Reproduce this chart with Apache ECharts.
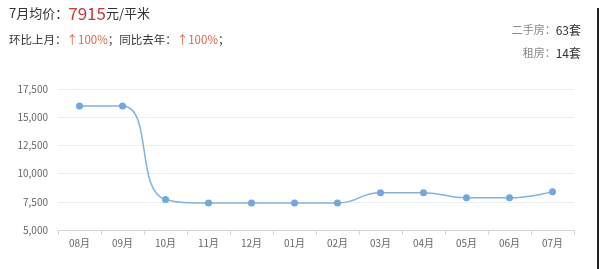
<!DOCTYPE html>
<html><head><meta charset="utf-8">
<script src="https://cdn.jsdelivr.net/npm/echarts@6/dist/echarts.min.js"></script>
<style>html,body{margin:0;padding:0;background:#fff}#c{width:600px;height:269px}</style>
</head><body><div id="c"></div>
<script>
var months = ['08月','09月','10月','11月','12月','01月','02月','03月','04月','05月','06月','07月'];
var prices = [16000, 16000, 7700, 7400, 7400, 7400, 7400, 8300, 8300, 7850, 7850, 8400];
var yTicks = [5000, 7500, 10000, 12500, 15000, 17500];
var avgPrice = '7915';
var monthLabel = '7月';
var momChange = '100%';
var yoyChange = '100%';
var secondHand = '63';
var rental = '14';

var chart = echarts.init(document.getElementById('c'));
var font = '"Microsoft YaHei","Noto Sans CJK SC",sans-serif';
chart.setOption({
  animation: false,
  grid: {left: 58, right: 26, top: 89, bottom: 39},
  xAxis: {
    type: 'category', data: months, boundaryGap: true,
    axisLine: {lineStyle: {color: '#d6d6d6'}},
    axisTick: {show: true, length: 5, lineStyle: {color: '#d6d6d6'}},
    axisLabel: {color: '#666', fontSize: 10, fontFamily: font, margin: 8}
  },
  yAxis: {
    type: 'value', min: yTicks[0], max: yTicks[yTicks.length-1], interval: 2500,
    axisLine: {show: false}, axisTick: {show: false},
    splitLine: {lineStyle: {color: '#eeeeee'}},
    axisLabel: {color: '#666', fontSize: 10, fontFamily: font, margin: 10,
      formatter: function(v){return v.toLocaleString('en-US');}}
  },
  series: [{
    type: 'line', data: prices, smooth: 0.5,
    symbol: 'circle', symbolSize: 7,
    lineStyle: {color: '#80b2e2', width: 1.5},
    itemStyle: {color: '#72a8df'}
  }],
  graphic: [
    {type: 'text', left: 9, top: 5, style: {rich: {
        a: {fontSize: 13, fill: '#333', fontFamily: font},
        b: {fontSize: 17, fill: '#c9383a', fontFamily: font},
        c: {fontSize: 13, fill: '#333', fontFamily: font}
      }, text: '{a|' + monthLabel + '均价：}{b|' + avgPrice + '}{c|元/平米}'}},
    {type: 'text', left: 9, top: 34, style: {rich: {
        a: {fontSize: 11.5, fill: '#333', fontFamily: font},
        r: {fontSize: 11.5, fill: '#d8664e', fontFamily: font}
      }, text: '{a|环比上月：}{r|↑' + momChange + '}{a|；同比去年：}{r|↑' + yoyChange + '}{a|；}'}},
    {type: 'text', right: 19, top: 24, style: {rich: {
        a: {fontSize: 11, fill: '#888', fontFamily: font},
        b: {fontSize: 12, fill: '#333', fontFamily: font}
      }, text: '{a|二手房：}{b|' + secondHand + '套}'}},
    {type: 'text', right: 19, top: 47, style: {rich: {
        a: {fontSize: 11, fill: '#888', fontFamily: font},
        b: {fontSize: 12, fill: '#333', fontFamily: font}
      }, text: '{a|租房：}{b|' + rental + '套}'}},
    {type: 'rect', shape: {x: 597, y: 8, width: 2, height: 261}, style: {fill: '#222'}}
  ]
});
</script></body></html>
